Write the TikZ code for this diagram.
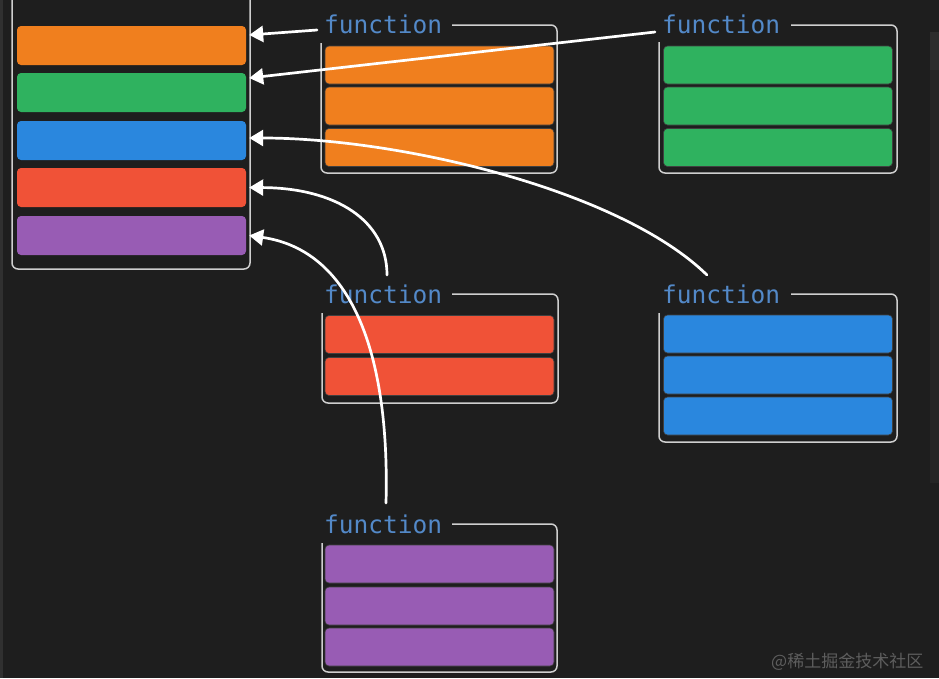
\documentclass[tikz,border=0pt]{standalone}
\usepackage{fontspec}
\newfontfamily\monof{DejaVu Sans Mono}
\newfontfamily\cjk{Noto Sans CJK SC}
\usetikzlibrary{arrows.meta}
\definecolor{bg}{HTML}{1E1E1E}
\definecolor{frm}{HTML}{CFCFCF}
\definecolor{lbl}{HTML}{5389C8}
\definecolor{cOr}{HTML}{F07F1E}
\definecolor{cGr}{HTML}{2FB25F}
\definecolor{cBl}{HTML}{2A87DE}
\definecolor{cRd}{HTML}{F05237}
\definecolor{cPu}{HTML}{985CB4}
\definecolor{wm}{HTML}{5E5E5E}
\tikzset{
  lbar/.style={rectangle, rounded corners=4pt, inner sep=0pt, minimum width=229pt, minimum height=39pt},
  fbar/.style={rectangle, rounded corners=4pt, inner sep=0pt, minimum width=229pt, minimum height=38pt, draw=black!75, line width=0.6pt},
  frame/.style={draw=frm, line width=1.5pt, rounded corners=6pt},
  flabel/.style={anchor=base west, inner sep=0pt, text=lbl, font=\monof\fontsize{24.5}{26}\selectfont},
  conn/.style={draw=white, line width=2.7pt, line cap=round, -{Triangle[width=16pt,length=14pt,fill=white]}},
}
\begin{document}
\begin{tikzpicture}[x=1pt,y=-1pt]
\fill[bg] (0,0) rectangle (939,678);
\useasboundingbox (0,0) rectangle (939,678);
\clip (0,0) rectangle (939,678);
% edges
\fill[white!8!bg] (0,0) rectangle (2.5,678);
\fill[white!6!bg] (930,32) rectangle (939,70);
\fill[white!3!bg] (930,70) rectangle (939,483);

% left container
\draw[frame] (12,-10) -- (12,269) -- (250,269) -- (250,-10);
\node[lbar, fill=cOr] (L1) at (131.5,45.5) {};
\node[lbar, fill=cGr] (L2) at (131.5,92.5) {};
\node[lbar, fill=cBl] (L3) at (131.5,140.5) {};
\node[lbar, fill=cRd] (L4) at (131.5,187.5) {};
\node[lbar, fill=cPu] (L5) at (131.5,235.5) {};

% function box 1 (orange)
\node[flabel] (f1) at (324,33) {function};
\draw[frame] (452,25) -- (557,25) -- (557,173) -- (321,173) -- (321,43);
\node[fbar, fill=cOr] (o1) at (439.5,65) {};
\node[fbar, fill=cOr] (o2) at (439.5,106) {};
\node[fbar, fill=cOr] (o3) at (439.5,147.5) {};

% function box 2 (green)
\node[flabel] (f2) at (662,33) {function};
\draw[frame] (791,25) -- (897,25) -- (897,173) -- (659,173) -- (659,42);
\node[fbar, fill=cGr] (g1) at (778,65) {};
\node[fbar, fill=cGr] (g2) at (778,106) {};
\node[fbar, fill=cGr] (g3) at (778,147.5) {};

% function box 3 (red)
\node[flabel] (f3) at (324,303) {function};
\draw[frame] (452,294) -- (558,294) -- (558,403) -- (322,403) -- (322,313);
\node[fbar, fill=cRd] (r1) at (439.5,334.5) {};
\node[fbar, fill=cRd] (r2) at (439.5,376.5) {};

% function box 4 (blue)
\node[flabel] (f4) at (662,303) {function};
\draw[frame] (791,294) -- (897,294) -- (897,442) -- (659,442) -- (659,313);
\node[fbar, fill=cBl] (b1) at (778,334) {};
\node[fbar, fill=cBl] (b2) at (778,375) {};
\node[fbar, fill=cBl] (b3) at (778,416) {};

% function box 5 (purple)
\node[flabel] (f5) at (324,533) {function};
\draw[frame] (452,524) -- (557,524) -- (557,672) -- (322,672) -- (322,543);
\node[fbar, fill=cPu] (p1) at (439.5,564) {};
\node[fbar, fill=cPu] (p2) at (439.5,606) {};
\node[fbar, fill=cPu] (p3) at (439.5,647) {};

% connector start points
\coordinate (s1) at ([shift={(-7pt,3pt)}]f1.base west);
\coordinate (s2) at ([shift={(-7pt,1pt)}]f2.base west);
\coordinate (s3) at (707,275);
\coordinate (s4) at (387,275);
\coordinate (s5) at (386,503);

% connectors
\draw[conn] (s1) -- ([shift={(3pt,10.5pt)}]L1.east);
\draw[conn] (s2) -- ([shift={(3pt,14.5pt)}]L2.east);
\draw[conn] (s3) .. controls (620,190) and (400,138) .. ([shift={(3pt,2.5pt)}]L3.east);
\draw[conn] (s4) .. controls (387,220) and (335,188) .. ([shift={(3pt,0pt)}]L4.east);
\draw[conn] (s5) .. controls (390,350) and (350,250) .. ([shift={(3pt,0pt)}]L5.east);

% watermark
\node[anchor=base west, inner sep=0pt, text=wm, font=\cjk\fontsize{17}{19}\selectfont] (wmk) at (771,667) {@稀土掘金技术社区};
\end{tikzpicture}
\end{document}
